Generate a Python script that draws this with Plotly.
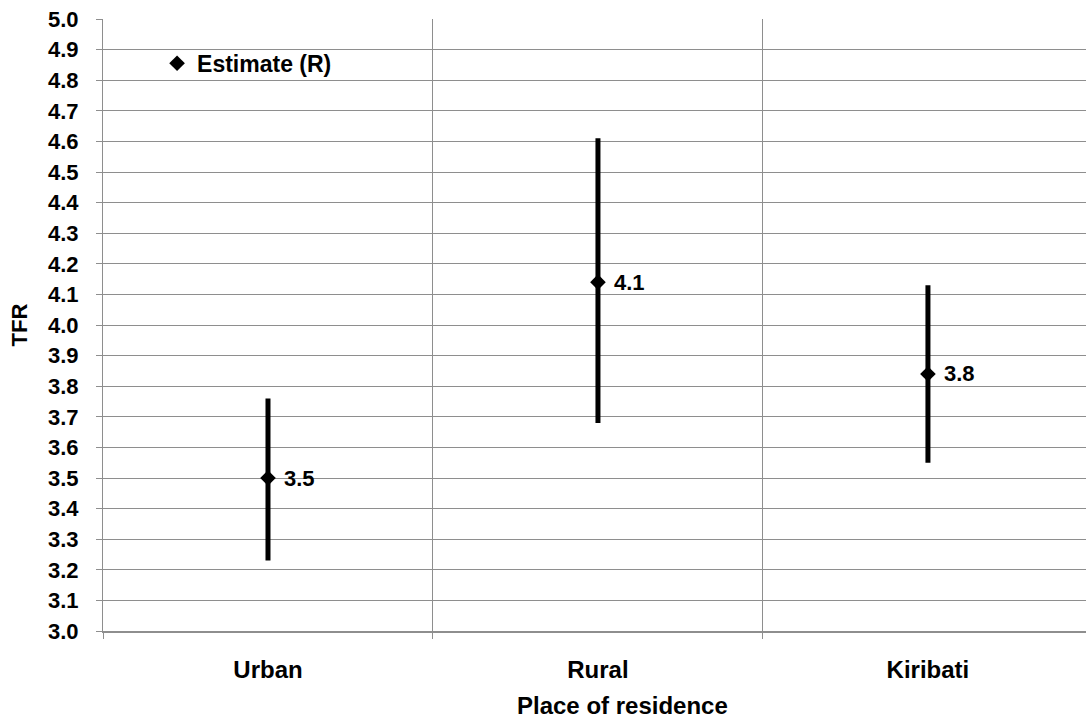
import plotly.graph_objects as go

categories = ["Urban", "Rural", "Kiribati"]
estimate = [3.50, 4.14, 3.84]
lower = [3.23, 3.68, 3.55]
upper = [3.76, 4.61, 4.13]
labels = ["3.5", "4.1", "3.8"]
y_ticks = [round(3.0 + 0.1 * i, 1) for i in range(21)]

err_plus = [u - e for u, e in zip(upper, estimate)]
err_minus = [e - l for e, l in zip(estimate, lower)]

FONT = "Liberation Sans, Arial, sans-serif"
GRID = "#8e8e8e"

fig = go.Figure()
fig.add_trace(go.Scatter(
    x=categories, y=estimate, mode="markers", name="Estimate (R)",
    marker=dict(symbol="diamond", size=12, color="black"),
    error_y=dict(type="data", symmetric=False, array=err_plus, arrayminus=err_minus,
                 color="black", thickness=5, width=0),
))

for c, e, t in zip(categories, estimate, labels):
    fig.add_annotation(x=c, y=e, text="<b>%s</b>" % t, showarrow=False,
                       xanchor="left", yanchor="middle", xshift=14,
                       font=dict(family=FONT, size=22, color="black"))

# x-axis title
fig.add_annotation(x=0.528, y=-0.1214, xref="paper", yref="paper",
                   text="<b>Place of residence</b>", showarrow=False,
                   xanchor="center", yanchor="middle",
                   font=dict(family=FONT, size=24, color="black"))

fig.update_layout(
    width=1086, height=719,
    margin=dict(l=103, r=0, t=19, b=88),
    paper_bgcolor="white", plot_bgcolor="white",
    font=dict(family=FONT, size=22, color="black"),
    showlegend=True,
    legend=dict(x=0.055, y=0.9276, xanchor="left", yanchor="middle",
                bgcolor="rgba(0,0,0,0)",
                font=dict(family=FONT, size=23, color="black", weight="bold"),
                itemwidth=30),
    xaxis=dict(
        type="category", range=[-0.5, 2.479], tickson="boundaries",
        showgrid=True, gridcolor=GRID, gridwidth=1,
        showline=True, linecolor=GRID, linewidth=2,
        ticks="outside", ticklen=6, tickcolor=GRID,
        ticklabelstandoff=16,
        tickfont=dict(family=FONT, size=24, color="black", weight="bold"),
        zeroline=False,
    ),
    yaxis=dict(
        range=[3.0, 5.0], tickvals=y_ticks, tickformat=".1f",
        showgrid=True, gridcolor=GRID, gridwidth=1,
        showline=True, linecolor=GRID, linewidth=1,
        ticks="outside", ticklen=6, tickcolor=GRID,
        ticklabelstandoff=13,
        tickfont=dict(family=FONT, size=22, color="black", weight="bold"),
        title=dict(text="<b>TFR</b>", standoff=14,
                   font=dict(family=FONT, size=22, color="black")),
        zeroline=False,
    ),
)

fig.write_html("out.html")
